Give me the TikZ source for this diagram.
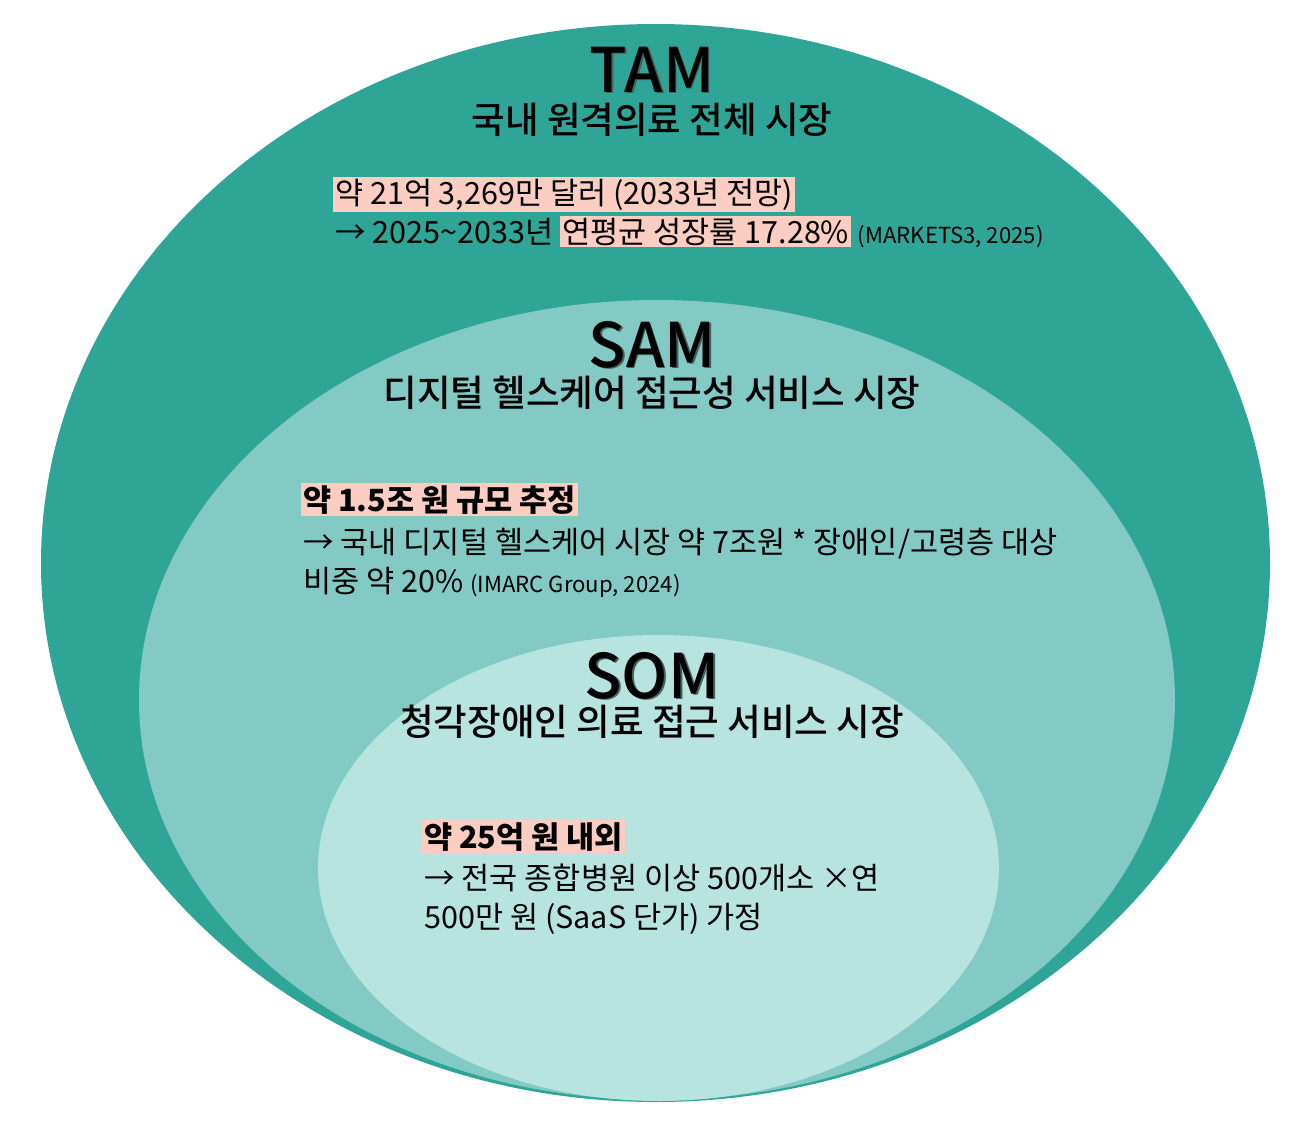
\documentclass[tikz,border=0pt]{standalone}
\usepackage{fontspec}
\setmainfont{Noto Sans CJK KR}
\newfontfamily\medfont{Noto Sans CJK KR Medium}
\usetikzlibrary{positioning}
\definecolor{tamTeal}{RGB}{47,165,152}
\definecolor{samTeal}{RGB}{130,202,195}
\definecolor{somTeal}{RGB}{183,228,223}
\definecolor{markPink}{RGB}{252,205,193}
\definecolor{shadowInk}{RGB}{70,96,92}
\newcommand{\hlpink}[1]{{\setlength{\fboxsep}{1pt}\colorbox{markPink}{#1}}}
\newcommand{\srcnote}[1]{{\fontsize{12.6}{15}\selectfont #1}}
\newcommand{\shadowtitle}[1]{\makebox[0pt][l]{\kern1pt\raisebox{-1pt}{\textcolor{shadowInk}{#1}}}#1}
\tikzset{
  bigtitle/.style={anchor=base, inner sep=0pt, font=\fontsize{35}{40}\selectfont\medfont},
  subtitle/.style={anchor=base, inner sep=0pt, font=\fontsize{20.8}{24}\selectfont\medfont},
  bodyline/.style={anchor=base west, inner sep=0pt, font=\fontsize{17.4}{21}\selectfont},
  boldline/.style={bodyline, font=\fontsize{17.4}{21}\selectfont\bfseries}
}
\begin{document}
\begin{tikzpicture}[x=0.02cm, y=-0.02cm]
  \useasboundingbox (0,0) rectangle (1312,1126);
  % nested market circles
  \fill[tamTeal] (655.5,563) ellipse [x radius=614.5, y radius=539];
  \fill[samTeal] (657,700) ellipse [x radius=518, y radius=400];
  \fill[somTeal] (658.5,868) ellipse [x radius=340.5, y radius=233];

  % TAM
  \node[bigtitle] (tamTitle) at (652,92) {\shadowtitle{TAM}};
  \node[subtitle] (tamSub) at (652,133) {국내 원격의료 전체 시장};
  \node[bodyline] (tamLineA) at (333,204) {\hlpink{약 21억 3,269만 달러 (2033년 전망)}};
  \node[bodyline] (tamLineB) at (335,243) {→ 2025\textasciitilde2033년 \hlpink{연평균 성장률 17.28\%} \srcnote{(MARKETS3, 2025)}};

  % SAM
  \node[bigtitle] (samTitle) at (652,367) {\shadowtitle{SAM}};
  \node[subtitle] (samSub) at (652,406) {디지털 헬스케어 접근성 서비스 시장};
  \node[boldline] (samLineA) at (301,511) {\hlpink{약 1.5조 원 규모 추정}};
  \node[bodyline] (samLineB) at (303,553) {→ 국내 디지털 헬스케어 시장 약 7조원 * 장애인/고령층 대상};
  \node[bodyline] (samLineC) at (303,592) {비중 약 20\% \srcnote{(IMARC Group, 2024)}};

  % SOM
  \node[bigtitle] (somTitle) at (652,698) {\shadowtitle{SOM}};
  \node[subtitle] (somSub) at (652,735) {청각장애인 의료 접근 서비스 시장};
  \node[boldline] (somLineA) at (422,848) {\hlpink{약 25억 원 내외}};
  \node[bodyline] (somLineB) at (424,889) {→ 전국 종합병원 이상 500개소 ×연};
  \node[bodyline] (somLineC) at (424,928) {500만 원 (SaaS 단가) 가정};
\end{tikzpicture}
\end{document}
